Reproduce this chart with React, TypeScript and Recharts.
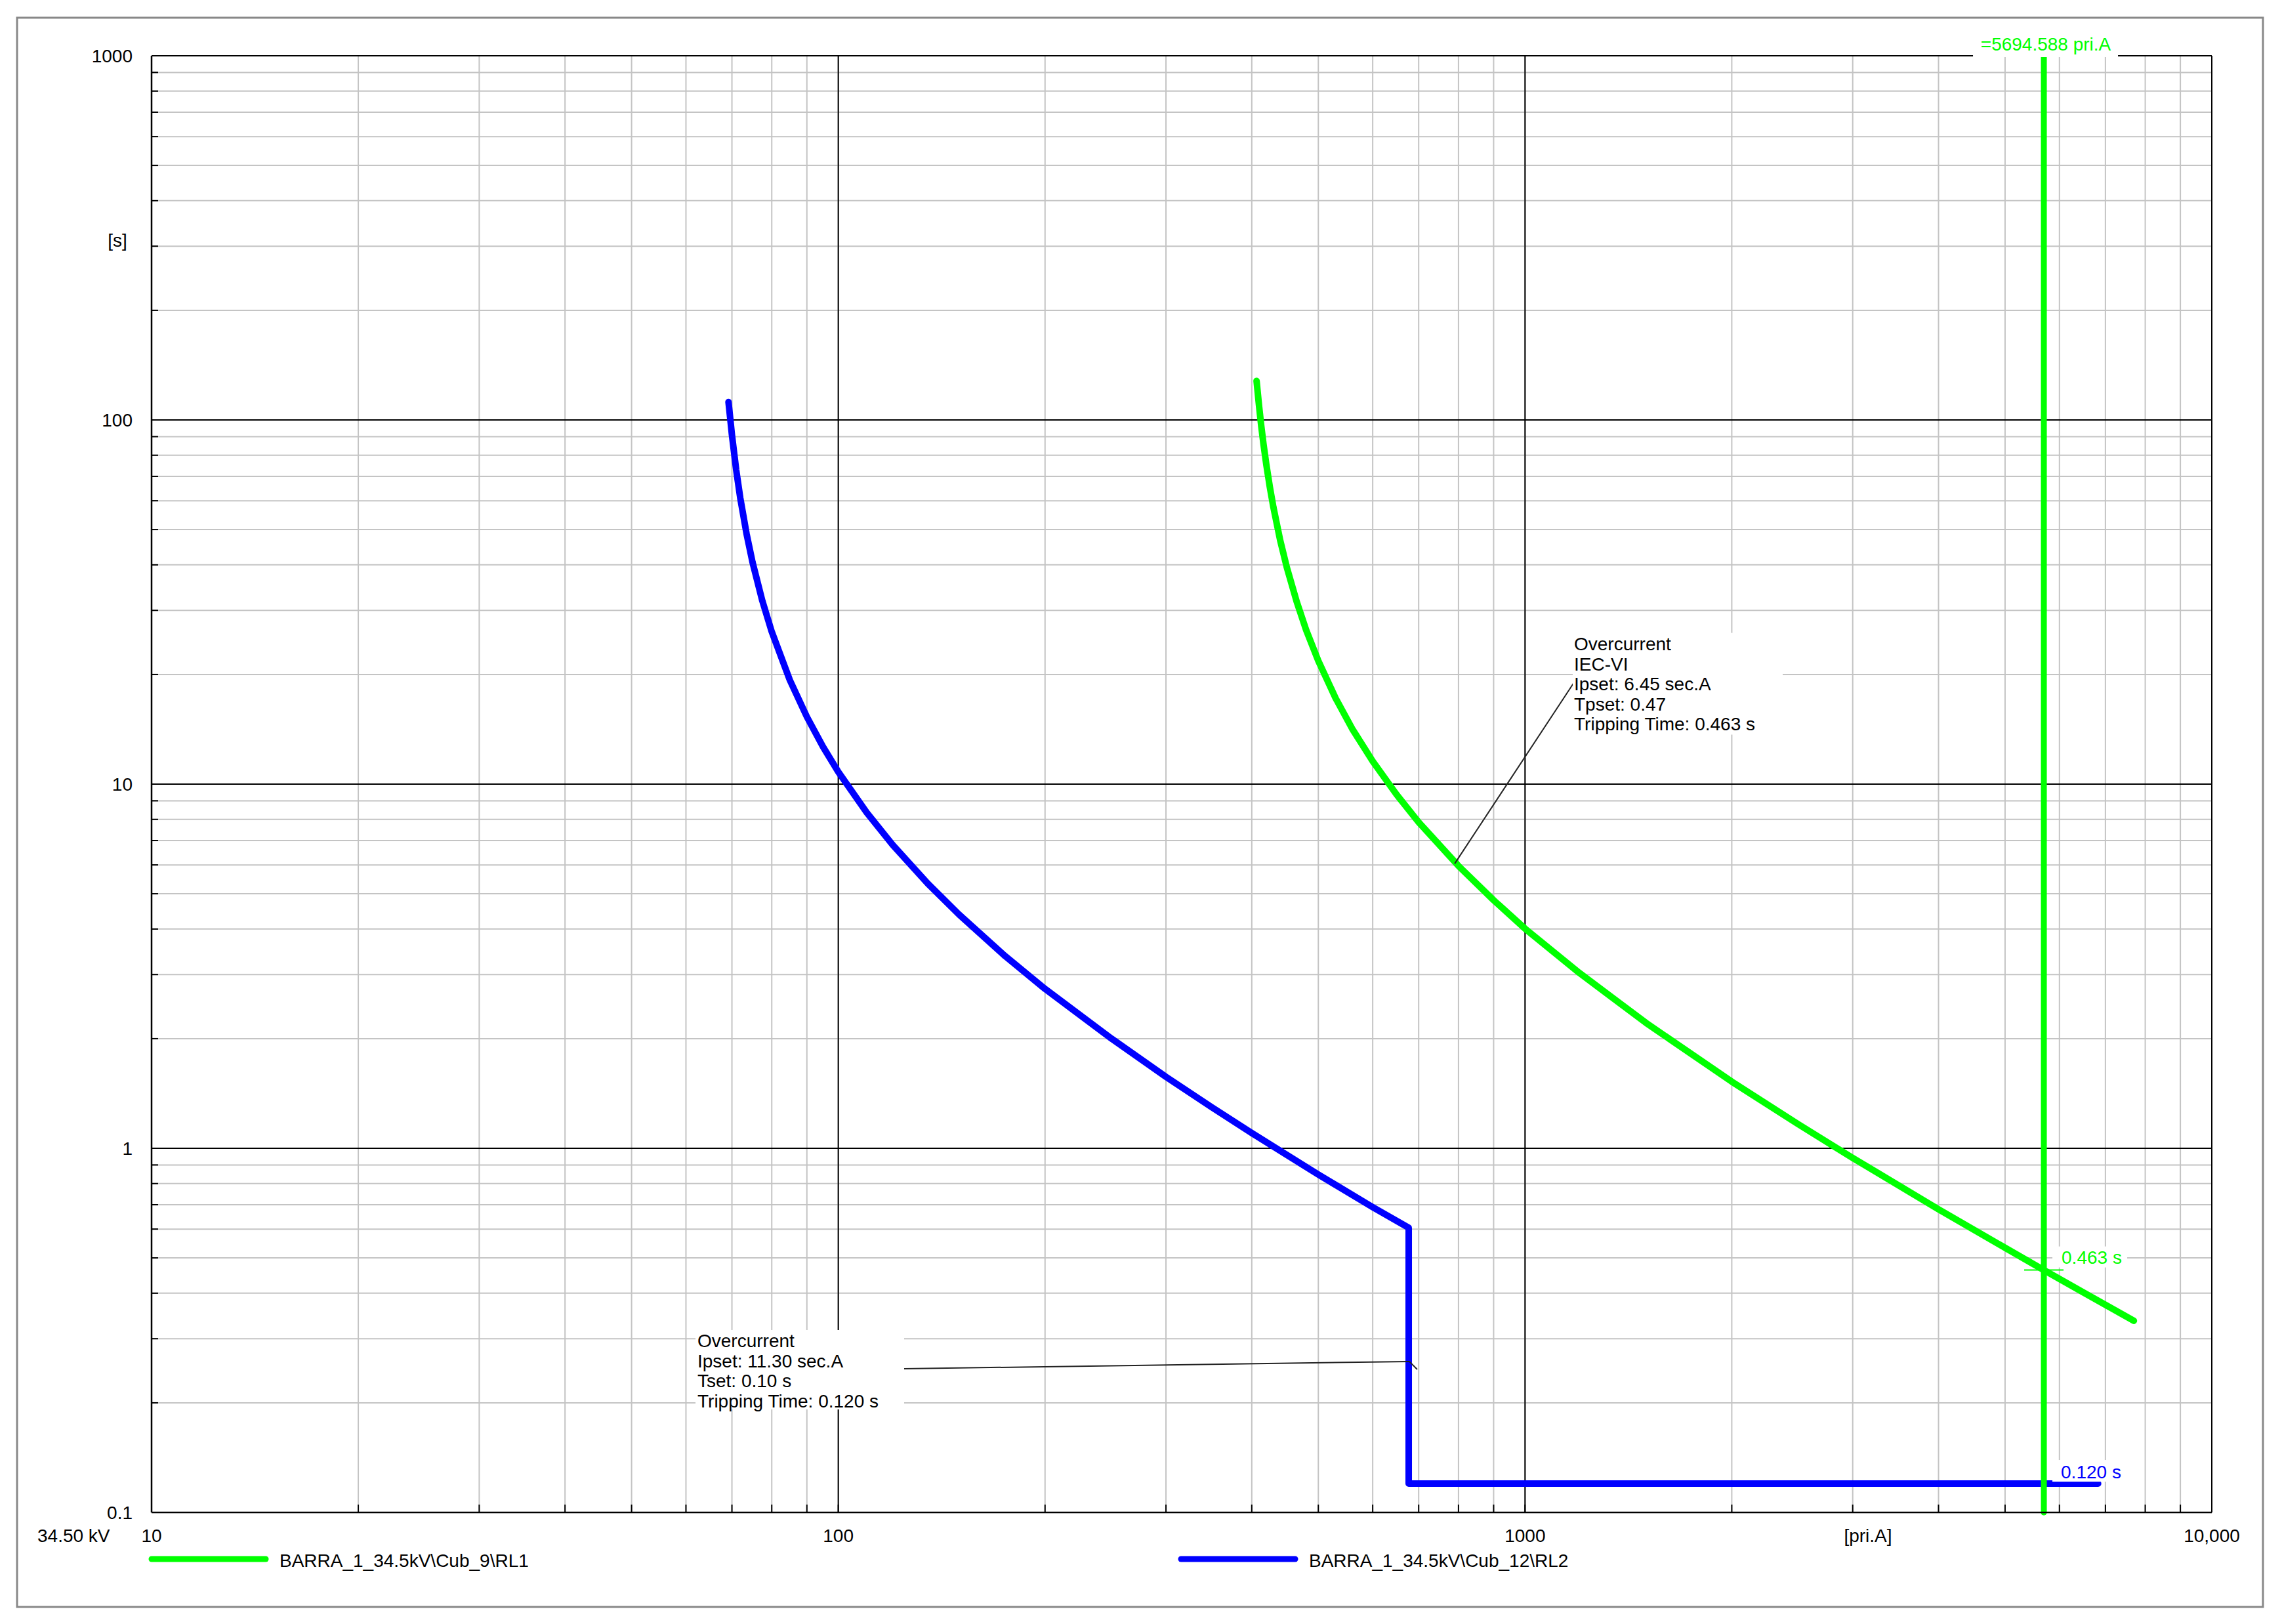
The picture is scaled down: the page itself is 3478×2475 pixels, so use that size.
import React from 'react';
import {
  LineChart,
  Line,
  XAxis,
  YAxis,
  CartesianGrid,
  ReferenceDot,
  ReferenceLine,
} from 'recharts';

const FONT = '"Liberation Sans", Arial, Helvetica, sans-serif';
const W = 3478;
const H = 2475;

// ---------- data ----------
const RL1_NAME = 'BARRA_1_34.5kV\\Cub_9\\RL1';
const RL1_COLOR = '#00ff00';
const RL1_CURRENT = [406.5, 408, 410, 413, 416, 420, 425, 430, 440, 450, 465, 480, 500, 530, 560, 600, 650, 700, 800, 900, 1000, 1200, 1500, 2000, 2500, 3000, 4000, 5000, 5694.588, 6500, 7700];
const RL1_TIME = [128, 119.3, 108.8, 96.0, 85.9, 75.4, 65.4, 57.7, 46.7, 39.3, 31.7, 26.5, 21.8, 17.2, 14.2, 11.56, 9.36, 7.86, 5.96, 4.80, 4.01, 3.03, 2.21, 1.524, 1.164, 0.941, 0.680, 0.533, 0.463, 0.402, 0.336];
const RL1_NOTE = ['Overcurrent', 'IEC-VI', 'Ipset: 6.45 sec.A', 'Tpset: 0.47', 'Tripping Time: 0.463 s'];
const RL1_NOTE_POS = { I: 1176, t: 18.9 };
const RL1_LEADER = [{ I: 790, t: 6.05 }, { I: 1176, t: 18.9 }];
const RL1_TRIP = 0.463;
const RL1_TRIP_LABEL = '0.463 s';

const RL2_NAME = 'BARRA_1_34.5kV\\Cub_12\\RL2';
const RL2_COLOR = '#0000ff';
const RL2_CURRENT = [69.2, 69.6, 70, 71, 72, 73.5, 75, 77.5, 80, 85, 90, 95, 100, 110, 120, 135, 150, 175, 200, 250, 300, 350, 400, 500, 600, 677, 677, 6830];
const RL2_TIME = [112, 101, 91.0, 73.0, 60.9, 48.8, 40.7, 31.9, 26.2, 19.3, 15.3, 12.66, 10.8, 8.35, 6.81, 5.33, 4.38, 3.37, 2.74, 2.00, 1.571, 1.295, 1.101, 0.847, 0.689, 0.605, 0.12, 0.12];
const RL2_NOTE = ['Overcurrent', 'Ipset: 11.30 sec.A', 'Tset: 0.10 s', 'Tripping Time: 0.120 s'];
const RL2_NOTE_POS = { I: 124.7, t: 0.2481 };
const RL2_LEADER = [{ I: 124.7, t: 0.2481 }, { I: 678.4, t: 0.2598 }, { I: 696.6, t: 0.247 }];
const RL2_TRIP = 0.12;
const RL2_TRIP_LABEL = '0.120 s';

const FAULT_CURRENT = 5694.588;
const FAULT_LABEL = '=5694.588 pri.A';
const FAULT_TIME_RANGE = [0.1, 1000];

const X_TICKS = [10, 20, 30, 40, 50, 60, 70, 80, 90, 100, 200, 300, 400, 500, 600, 700, 800, 900, 1000, 2000, 3000, 4000, 5000, 6000, 7000, 8000, 9000, 10000];
const X_MAJOR = [10, 100, 1000, 10000];
const X_LABELS = ['10', '100', '1000', '10,000'];
const Y_TICKS = [0.1, 0.2, 0.3, 0.4, 0.5, 0.6, 0.7, 0.8, 0.9, 1, 2, 3, 4, 5, 6, 7, 8, 9, 10, 20, 30, 40, 50, 60, 70, 80, 90, 100, 200, 300, 400, 500, 600, 700, 800, 900, 1000];
const Y_MAJOR = [0.1, 1, 10, 100, 1000];
const Y_LABELS = ['0.1', '1', '10', '100', '1000'];

const X_UNIT = '[pri.A]';
const Y_UNIT = '[s]';
const VOLTAGE = '34.50 kV';

const rl1Data = RL1_CURRENT.map((I, i) => ({ I, t: RL1_TIME[i] }));
const rl2Data = RL2_CURRENT.map((I, i) => ({ I, t: RL2_TIME[i] }));
const faultData = FAULT_TIME_RANGE.map((t) => ({ I: FAULT_CURRENT, t }));

const LEGEND = [
  { name: RL1_NAME, color: RL1_COLOR },
  { name: RL2_NAME, color: RL2_COLOR },
];

const textStyle = { fontFamily: FONT, fontSize: 28 };

const XTick = (p: any) => {
  const { x, y, payload } = p;
  const idx = X_MAJOR.indexOf(payload.value);
  return (
    <g>
      <line x1={x} x2={x} y1={y} y2={y - 12} stroke="#000" strokeWidth={2} />
      {idx >= 0 && (
        <text x={x} y={y + 35} textAnchor="middle" dominantBaseline="central" fill="#000" style={textStyle}>
          {X_LABELS[idx]}
        </text>
      )}
    </g>
  );
};

const YTick = (p: any) => {
  const { x, y, payload } = p;
  const idx = Y_MAJOR.indexOf(payload.value);
  return (
    <g>
      <line x1={x} x2={x + 10} y1={y} y2={y} stroke="#000" strokeWidth={2} />
      {idx >= 0 && (
        <text x={x - 29} y={y} textAnchor="end" dominantBaseline="central" fill="#000" style={textStyle}>
          {Y_LABELS[idx]}
        </text>
      )}
    </g>
  );
};

const Rl1Note = (p: any) => {
  const { cx, cy } = p;
  return (
    <g>
      <rect x={cx - 1} y={cy - 77} width={320} height={155} fill="#fff" />
      {RL1_NOTE.map((s, i) => (
        <text key={i} x={cx + 1} y={cy - 60 + 30.5 * i} dominantBaseline="central" fill="#000" style={textStyle}>
          {s}
        </text>
      ))}
    </g>
  );
};

const Rl2Note = (p: any) => {
  const { cx, cy } = p;
  return (
    <g>
      <rect x={cx - 318} y={cy - 59} width={318} height={121} fill="#fff" />
      {RL2_NOTE.map((s, i) => (
        <text key={i} x={cx - 315} y={cy - 42 + 30.5 * i} dominantBaseline="central" fill="#000" style={textStyle}>
          {s}
        </text>
      ))}
    </g>
  );
};

const Rl1Trip = (p: any) => {
  const { cx, cy } = p;
  return (
    <g>
      <line x1={cx - 30} x2={cx + 30} y1={cy} y2={cy} stroke={RL1_COLOR} strokeWidth={2} />
      <rect x={cx + 13} y={cy - 36} width={114} height={32} fill="#fff" />
      <text x={cx + 27} y={cy - 19} dominantBaseline="central" fill={RL1_COLOR} style={textStyle}>
        {RL1_TRIP_LABEL}
      </text>
    </g>
  );
};

const Rl2Trip = (p: any) => {
  const { cx, cy } = p;
  return (
    <g>
      <rect x={cx + 13} y={cy - 36} width={112} height={33} fill="#fff" />
      <text x={cx + 26} y={cy - 18} dominantBaseline="central" fill={RL2_COLOR} style={textStyle}>
        {RL2_TRIP_LABEL}
      </text>
    </g>
  );
};

const FaultLabel = (p: any) => {
  const { cx, cy } = p;
  return (
    <g>
      <rect x={cx - 108} y={cy - 42} width={221} height={44} fill="#fff" />
      <text x={cx + 3} y={cy - 18} textAnchor="middle" dominantBaseline="central" fill={RL1_COLOR} style={textStyle}>
        {FAULT_LABEL}
      </text>
    </g>
  );
};

export default function App() {
  return (
    <div style={{ position: 'absolute', left: 0, top: 0, width: W, height: H, background: '#fff' }}>
      <LineChart width={W} height={H} margin={{ top: 85, right: 107, bottom: 110, left: 131 }}>
        <CartesianGrid stroke="#c4c4c4" strokeWidth={2} horizontalValues={Y_TICKS} verticalValues={X_TICKS} />
        <CartesianGrid stroke="#000" strokeWidth={2} horizontalValues={Y_MAJOR} verticalValues={X_MAJOR} />
        <XAxis
          dataKey="I"
          type="number"
          scale="log"
          domain={[10, 10000]}
          ticks={X_TICKS}
          interval={0}
          tickLine={false}
          tickSize={0}
          tickMargin={0}
          height={60}
          axisLine={{ stroke: '#000', strokeWidth: 2.5 }}
          tick={XTick}
        />
        <YAxis
          dataKey="t"
          type="number"
          scale="log"
          domain={[0.1, 1000]}
          ticks={Y_TICKS}
          interval={0}
          tickLine={false}
          tickSize={0}
          tickMargin={0}
          width={100}
          axisLine={{ stroke: '#000', strokeWidth: 2.5 }}
          tick={YTick}
        />
        <Line
          data={rl2Data}
          dataKey="t"
          name={RL2_NAME}
          type="linear"
          stroke={RL2_COLOR}
          strokeWidth={10}
          strokeLinejoin="round"
          strokeLinecap="round"
          dot={false}
          activeDot={false}
          isAnimationActive={false}
        />
        <Line
          data={rl1Data}
          dataKey="t"
          name={RL1_NAME}
          type="linear"
          stroke={RL1_COLOR}
          strokeWidth={10}
          strokeLinejoin="round"
          strokeLinecap="round"
          dot={false}
          activeDot={false}
          isAnimationActive={false}
        />
        <Line
          data={faultData}
          dataKey="t"
          name="fault"
          type="linear"
          stroke={RL1_COLOR}
          strokeWidth={9}
          strokeLinecap="round"
          dot={false}
          activeDot={false}
          isAnimationActive={false}
        />
        <ReferenceLine
          segment={[{ x: RL1_LEADER[0].I, y: RL1_LEADER[0].t }, { x: RL1_LEADER[1].I, y: RL1_LEADER[1].t }]}
          stroke="#222"
          strokeWidth={2}
          ifOverflow="visible"
        />
        <ReferenceLine
          segment={[{ x: RL2_LEADER[0].I, y: RL2_LEADER[0].t }, { x: RL2_LEADER[1].I, y: RL2_LEADER[1].t }]}
          stroke="#222"
          strokeWidth={2}
          ifOverflow="visible"
        />
        <ReferenceLine
          segment={[{ x: RL2_LEADER[1].I, y: RL2_LEADER[1].t }, { x: RL2_LEADER[2].I, y: RL2_LEADER[2].t }]}
          stroke="#222"
          strokeWidth={2}
          ifOverflow="visible"
        />
        <ReferenceDot x={RL1_NOTE_POS.I} y={RL1_NOTE_POS.t} ifOverflow="visible" shape={Rl1Note} />
        <ReferenceDot x={RL2_NOTE_POS.I} y={RL2_NOTE_POS.t} ifOverflow="visible" shape={Rl2Note} />
        <ReferenceDot x={FAULT_CURRENT} y={RL1_TRIP} ifOverflow="visible" shape={Rl1Trip} />
        <ReferenceDot x={FAULT_CURRENT} y={RL2_TRIP} ifOverflow="visible" shape={Rl2Trip} />
        <ReferenceDot x={FAULT_CURRENT} y={FAULT_TIME_RANGE[1]} ifOverflow="visible" shape={FaultLabel} />
      </LineChart>
      <svg
        width={W}
        height={H}
        style={{ position: 'absolute', left: 0, top: 0, pointerEvents: 'none' }}
      >
        <rect x={26} y={27} width={3423} height={2422} fill="none" stroke="#888" strokeWidth={3} />
        <text x={179} y={366} textAnchor="middle" dominantBaseline="central" fill="#000" style={textStyle}>
          {Y_UNIT}
        </text>
        <text x={2847} y={2340} textAnchor="middle" dominantBaseline="central" fill="#000" style={textStyle}>
          {X_UNIT}
        </text>
        <text x={57} y={2340} dominantBaseline="central" fill="#000" style={textStyle}>
          {VOLTAGE}
        </text>
        {LEGEND.map((item, i) => {
          const x0 = i === 0 ? 231 : 1800;
          return (
            <g key={item.name}>
              <line x1={x0} x2={x0 + 174} y1={2376} y2={2376} stroke={item.color} strokeWidth={9} strokeLinecap="round" />
              <text x={x0 + 195} y={2378} dominantBaseline="central" fill="#000" style={textStyle}>
                {item.name}
              </text>
            </g>
          );
        })}
      </svg>
    </div>
  );
}
